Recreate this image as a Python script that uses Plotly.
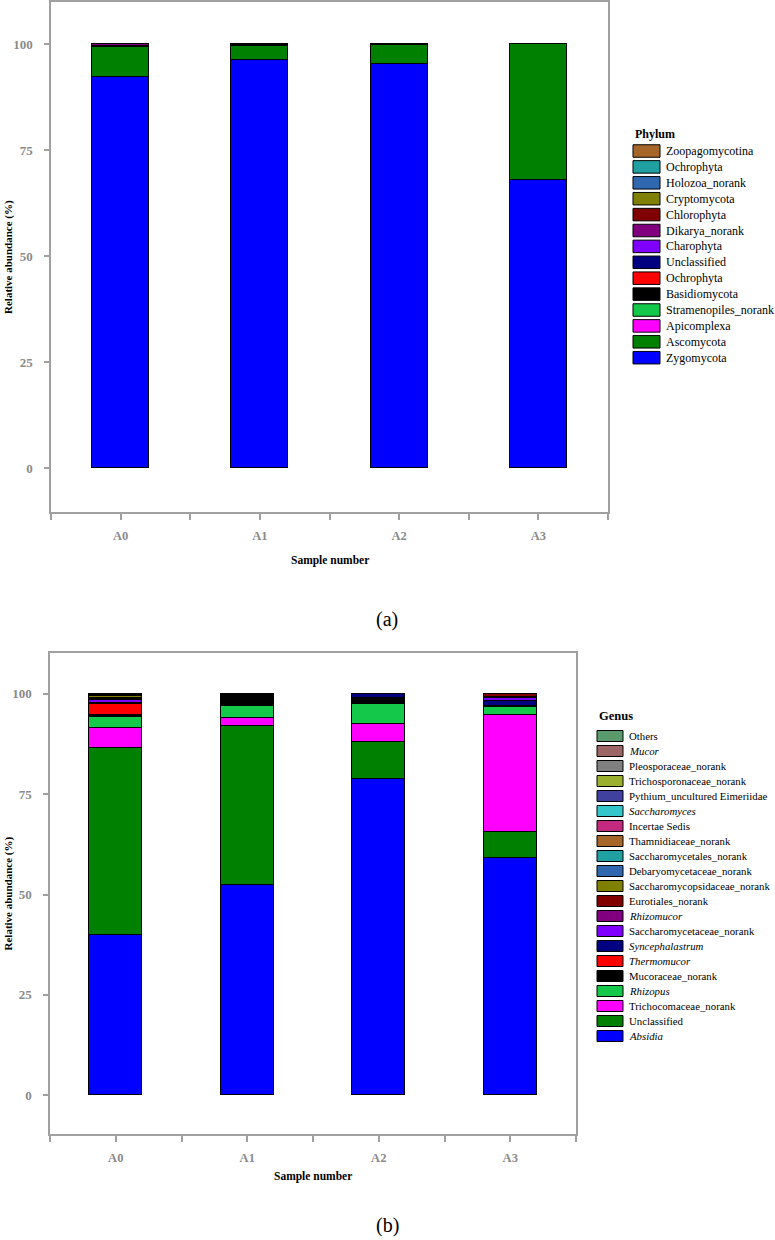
import plotly.graph_objects as go

W, H = 775, 1240

samples = ["A0", "A1", "A2", "A3"]

# ---- (a) Phylum, stacking order bottom -> top ----
phylum_names = ["Zygomycota", "Ascomycota", "Apicomplexa", "Stramenopiles_norank",
                "Basidiomycota", "Ochrophyta", "Unclassified", "Charophyta",
                "Dikarya_norank", "Chlorophyta", "Cryptomycota", "Holozoa_norank",
                "Ochrophyta", "Zoopagomycotina"]
phylum_colors = ["#0000FF", "#008000", "#FF00FF", "#14C84A", "#000000", "#FF0000",
                 "#000080", "#8000FF", "#800080", "#800000", "#808000", "#3068B0",
                 "#20A0A0", "#A6662A"]
zygomycota = [92.3, 96.3, 95.3, 68.0]
ascomycota = [7.0, 3.3, 4.6, 32.0]
apicomplexa = [0.2, 0.0, 0.0, 0.0]
stramenopiles = [0.0, 0.0, 0.0, 0.0]
basidiomycota = [0.1, 0.4, 0.1, 0.0]
ochrophyta_red = [0.0, 0.0, 0.0, 0.0]
unclassified_p = [0.0, 0.0, 0.0, 0.0]
charophyta = [0.1, 0.0, 0.0, 0.0]
dikarya = [0.3, 0.0, 0.0, 0.0]
chlorophyta = [0.0, 0.0, 0.0, 0.0]
cryptomycota = [0.0, 0.0, 0.0, 0.0]
holozoa = [0.0, 0.0, 0.0, 0.0]
ochrophyta_teal = [0.0, 0.0, 0.0, 0.0]
zoopagomycotina = [0.0, 0.0, 0.0, 0.0]
phylum_values = [zygomycota, ascomycota, apicomplexa, stramenopiles, basidiomycota,
                 ochrophyta_red, unclassified_p, charophyta, dikarya, chlorophyta,
                 cryptomycota, holozoa, ochrophyta_teal, zoopagomycotina]

# ---- (b) Genus, stacking order bottom -> top ----
genus_names = ["<i>Absidia</i>", "Unclassified", "Trichocomaceae_norank", "<i>Rhizopus</i>",
               "Mucoraceae_norank", "<i>Thermomucor</i>", "<i>Syncephalastrum</i>",
               "Saccharomycetaceae_norank", "<i>Rhizomucor</i>", "Eurotiales_norank",
               "Saccharomycopsidaceae_norank", "Debaryomycetaceae_norank",
               "Saccharomycetales_norank", "Thamnidiaceae_norank", "Incertae Sedis",
               "<i>Saccharomyces</i>", "Pythium_uncultured Eimeriidae",
               "Trichosporonaceae_norank", "Pleosporaceae_norank", "<i>Mucor</i>", "Others"]
genus_colors = ["#0000FF", "#008000", "#FF00FF", "#14C84A", "#000000", "#FF0000",
                "#000080", "#8000FF", "#800080", "#800000", "#808000", "#3068B0",
                "#20A0A0", "#A6662A", "#C2297F", "#33C7CC", "#40409F", "#9AB02E",
                "#808080", "#9C6666", "#5B9A6A"]
absidia = [39.8, 52.3, 78.7, 59.2]
unclassified_g = [46.7, 39.7, 9.4, 6.4]
trichocomaceae = [5.1, 2.0, 4.5, 29.1]
rhizopus = [2.7, 3.0, 4.9, 2.1]
mucoraceae = [0.5, 3.0, 1.5, 0.1]
thermomucor = [2.6, 0.0, 0.0, 0.0]
syncephalastrum = [0.4, 0.0, 1.0, 1.3]
saccharomycetaceae = [0.6, 0.0, 0.0, 0.8]
rhizomucor = [0.4, 0.0, 0.0, 0.3]
eurotiales = [0.2, 0.0, 0.0, 0.7]
saccharomycopsidaceae = [0.5, 0.0, 0.0, 0.0]
debaryomycetaceae = [0.2, 0.0, 0.0, 0.0]
saccharomycetales = [0.1, 0.0, 0.0, 0.0]
thamnidiaceae = [0.1, 0.0, 0.0, 0.0]
incertae = [0.0, 0.0, 0.0, 0.0]
saccharomyces = [0.0, 0.0, 0.0, 0.0]
pythium = [0.0, 0.0, 0.0, 0.0]
trichosporonaceae = [0.0, 0.0, 0.0, 0.0]
pleosporaceae = [0.0, 0.0, 0.0, 0.0]
mucor = [0.0, 0.0, 0.0, 0.0]
others = [0.1, 0.0, 0.0, 0.0]
genus_values = [absidia, unclassified_g, trichocomaceae, rhizopus, mucoraceae, thermomucor,
                syncephalastrum, saccharomycetaceae, rhizomucor, eurotiales,
                saccharomycopsidaceae, debaryomycetaceae, saccharomycetales, thamnidiaceae,
                incertae, saccharomyces, pythium, trichosporonaceae, pleosporaceae, mucor, others]

yticks = [0, 25, 50, 75, 100]

SERIF = "Liberation Serif"
GRAY = "#8a8a8a"
LINEGRAY = "#a0a0a0"


def px(x):
    return x / W


def py(y):
    return 1 - y / H


fig = go.Figure()
xpos = list(range(len(samples)))

for name, col, vals in zip(phylum_names, phylum_colors, phylum_values):
    fig.add_trace(go.Bar(x=xpos, y=vals, name=name, marker=dict(color=col, line=dict(color="black", width=1)),
                         width=0.41, xaxis="x", yaxis="y", showlegend=False))
for name, col, vals in zip(genus_names, genus_colors, genus_values):
    fig.add_trace(go.Bar(x=xpos, y=vals, name=name, marker=dict(color=col, line=dict(color="black", width=1)),
                         width=0.40, xaxis="x2", yaxis="y2", showlegend=False))

tv = []
tt = []
for i, s in enumerate(samples):
    tv += [i - 0.5, i]
    tt += ["", s]
tv.append(len(samples) - 0.5)
tt.append("")

axis_common_x = dict(range=[-0.5, len(samples) - 0.5], tickvals=tv, ticktext=tt, ticks="outside",
                     ticklen=6, tickwidth=1.5, tickcolor=LINEGRAY, showline=True, linecolor=LINEGRAY,
                     linewidth=1.5, mirror=True, showgrid=False, zeroline=False,
                     tickfont=dict(family=SERIF, size=12.5, color=GRAY, weight="bold"),
                     ticklabelstandoff=5, fixedrange=True)
axis_common_y = dict(tickvals=yticks, ticks="outside", ticklen=5, tickwidth=1.5, tickcolor=LINEGRAY,
                     showline=True, linecolor=LINEGRAY, linewidth=1.5, mirror=True, showgrid=False,
                     zeroline=False, tickfont=dict(family=SERIF, size=13, color=GRAY, weight="bold"),
                     ticklabelstandoff=9, fixedrange=True)

# chart frames in pixels
A = dict(l=51, r=608, t=2, b=512)
B = dict(l=50, r=576, t=653, b=1134)

fig.update_layout(
    width=W, height=H, margin=dict(l=0, r=0, t=0, b=0),
    paper_bgcolor="white", plot_bgcolor="white", barmode="stack", bargap=0,
    xaxis=dict(domain=[px(A["l"]), px(A["r"])], anchor="y", **axis_common_x),
    yaxis=dict(domain=[py(A["b"]), py(A["t"])], anchor="x", range=[-10.4, 110], **axis_common_y),
    xaxis2=dict(domain=[px(B["l"]), px(B["r"])], anchor="y2", **axis_common_x),
    yaxis2=dict(domain=[py(B["b"]), py(B["t"])], anchor="x2", range=[-9.7, 110.2], **axis_common_y),
)

ann = []
shapes = []


def text(x, y, s, size, bold=False, color="black", xanchor="center", angle=0):
    ann.append(dict(x=px(x), y=py(y), xref="paper", yref="paper", text=s, showarrow=False,
                    xanchor=xanchor, yanchor="middle", textangle=angle,
                    font=dict(family=SERIF, size=size, color=color, weight="bold" if bold else "normal")))


# axis titles
text(8, (A["t"] + A["b"]) / 2, "Relative abundance (%)", 11, bold=True, angle=-90)
text(8, (B["t"] + B["b"]) / 2, "Relative abundance (%)", 11, bold=True, angle=-90)
text((A["l"] + A["r"]) / 2, 560, "Sample number", 11.5, bold=True)
text((B["l"] + B["r"]) / 2, 1176, "Sample number", 11.5, bold=True)
text(387, 619, "(a)", 20)
text(387, 1225, "(b)", 20)


def legend(title, names, colors, x0, sw, title_y, first_y, step, sh, tsize, fsize, tx):
    text(x0, title_y, title, tsize, bold=True, xanchor="left")
    order = list(range(len(names)))[::-1]
    for k, i in enumerate(order):
        cy = first_y + k * step
        shapes.append(dict(type="rect", xref="paper", yref="paper", x0=px(x0), x1=px(x0 + sw),
                           y0=py(cy + sh / 2), y1=py(cy - sh / 2), fillcolor=colors[i],
                           line=dict(color="black", width=1)))
        text(tx, cy, names[i], fsize, xanchor="left")


legend("Phylum", phylum_names, phylum_colors, 633, 27, 134, 151, 15.9, 12.5, 12, 12, 664)
legend("Genus", genus_names, genus_colors, 597, 26, 716, 736, 15.0, 11, 12.5, 10.8, 627)

fig.update_layout(annotations=ann, shapes=shapes)

fig.write_html("out.html", config={"displayModeBar": False},
               post_script="document.body.style.margin='0';document.body.style.padding='0';")
